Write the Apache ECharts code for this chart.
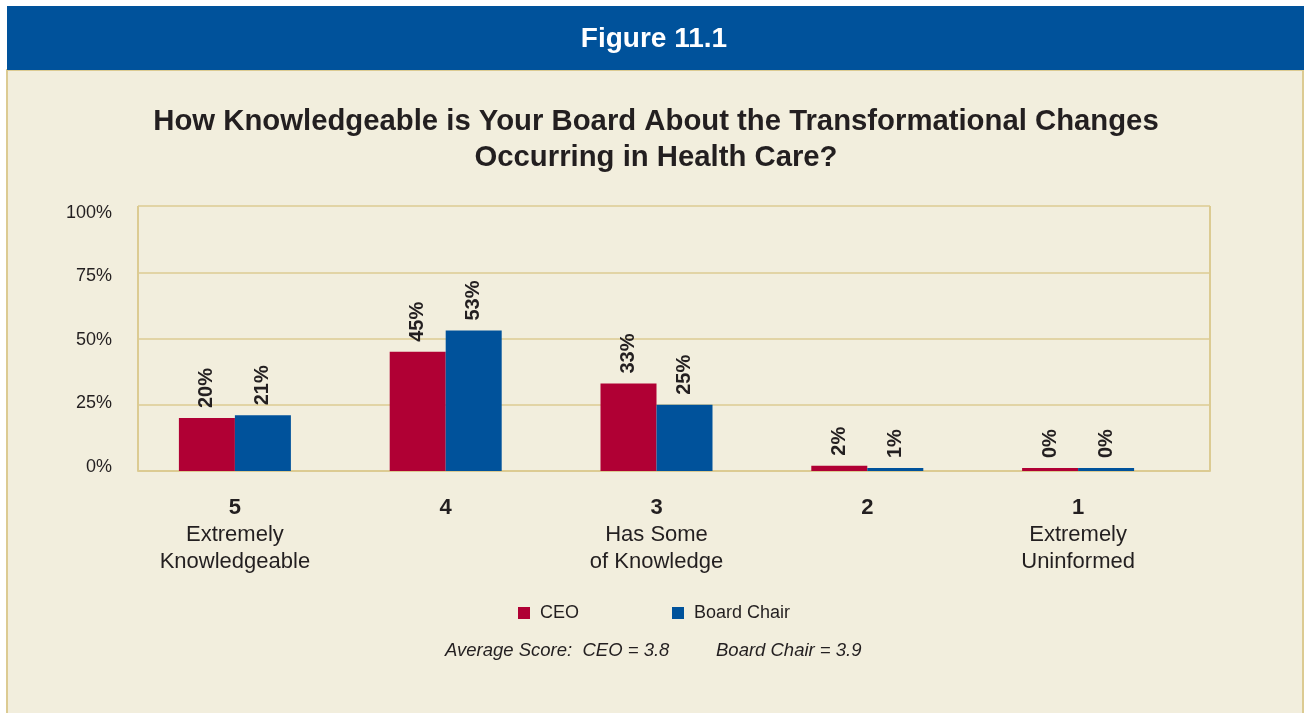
<!DOCTYPE html>
<html>
<head>
<meta charset="utf-8">
<title>Figure 11.1</title>
<script src="https://cdn.jsdelivr.net/npm/echarts@6/dist/echarts.min.js"></script>
<style>
  html, body { margin: 0; padding: 0; background: #ffffff; }
  #chart { width: 1304px; height: 713px; }
</style>
</head>
<body>
<div id="chart"></div>
<script>
// Survey responses (percent of respondents)
const ratings = ['5', '4', '3', '2', '1'];
const ratingNotes = [['Extremely', 'Knowledgeable'], [], ['Has Some', 'of Knowledge'], [], ['Extremely', 'Uninformed']];
const ceoValues = [20, 45, 33, 2, 0];
const chairValues = [21, 53, 25, 1, 0];
const seriesNames = ['CEO', 'Board Chair'];
const yTicks = [0, 25, 50, 75, 100];

const BLUE = '#00529b';
const RED = '#b00034';
const TAN = '#dccb92';
const PANEL = '#f2eedd';
const INK = '#231f20';
const FONT = '"Liberation Sans", Arial, Helvetica, sans-serif';

const chart = echarts.init(document.getElementById('chart'));

const barLabel = {
  show: true,
  position: 'top',
  distance: 10,
  rotate: 90,
  align: 'left',
  verticalAlign: 'middle',
  formatter: '{c}%',
  fontFamily: FONT,
  fontSize: 20,
  fontWeight: 'bold',
  color: INK
};

const yMin = yTicks[0];
const yMax = yTicks[yTicks.length - 1];

chart.setOption({
  backgroundColor: 'transparent',
  animation: false,
  textStyle: { fontFamily: FONT, color: INK },
  graphic: [
    // cream panel with tan border
    { type: 'rect', z: -10, shape: { x: 7, y: 70, width: 1296, height: 650 },
      style: { fill: PANEL, stroke: TAN, lineWidth: 2 } },
    // header banner
    { type: 'rect', z: -5, shape: { x: 7, y: 6, width: 1297, height: 64 }, style: { fill: BLUE } },
    { type: 'text', z: 10, x: 654, y: 39,
      style: { text: 'Figure 11.1', fill: '#ffffff', font: 'bold 28px ' + FONT,
               textAlign: 'center', textVerticalAlign: 'middle' } },
    // chart title
    { type: 'text', z: 10, x: 656, y: 122,
      style: { text: 'How Knowledgeable is Your Board About the Transformational Changes', fill: INK,
               font: 'bold 29.3px ' + FONT, textAlign: 'center', textVerticalAlign: 'middle' } },
    { type: 'text', z: 10, x: 656, y: 158,
      style: { text: 'Occurring in Health Care?', fill: INK,
               font: 'bold 29.3px ' + FONT, textAlign: 'center', textVerticalAlign: 'middle' } },
    // average scores
    { type: 'text', z: 10, x: 445, y: 651,
      style: { text: 'Average Score:  CEO = 3.8', fill: INK, font: 'italic 18.5px ' + FONT,
               textAlign: 'left', textVerticalAlign: 'middle' } },
    { type: 'text', z: 10, x: 716, y: 651,
      style: { text: 'Board Chair = 3.9', fill: INK, font: 'italic 18.5px ' + FONT,
               textAlign: 'left', textVerticalAlign: 'middle' } }
  ],
  legend: {
    data: seriesNames,
    left: 513,
    top: 599,
    icon: 'rect',
    itemWidth: 12,
    itemHeight: 12,
    itemGap: 93,
    textStyle: { fontFamily: FONT, fontSize: 18, color: INK, padding: [0, 0, 0, 5] }
  },
  grid: [
    // bars
    { left: 129.5, top: 206, width: 1054, bottom: 242, show: false },
    // plot frame and gridlines
    { left: 138, top: 206, right: 94, bottom: 242, show: false },
    // tick label column
    { left: 138, top: 213, right: 94, bottom: 246, show: false }
  ],
  xAxis: [
    {
      type: 'category', gridIndex: 0, data: ratings,
      axisLine: { show: false }, axisTick: { show: false },
      axisLabel: {
        margin: 23,
        interval: 0,
        formatter: function (value, idx) {
          const notes = ratingNotes[idx];
          let s = '{b|' + value + '}';
          notes.forEach(function (line) { s += '\n{n|' + line + '}'; });
          return s;
        },
        rich: {
          b: { fontFamily: FONT, fontSize: 22, fontWeight: 'bold', lineHeight: 27, color: INK },
          n: { fontFamily: FONT, fontSize: 22, lineHeight: 27, color: INK }
        }
      }
    },
    {
      type: 'value', gridIndex: 1, min: 0, max: 1, interval: 1,
      axisLine: { show: true, lineStyle: { color: TAN, width: 2 } },
      axisTick: { show: false }, axisLabel: { show: false },
      splitLine: { show: true, lineStyle: { color: TAN, width: 2 } }
    },
    { type: 'value', gridIndex: 2, min: 0, max: 1, show: false }
  ],
  yAxis: [
    { type: 'value', gridIndex: 0, min: yMin, max: yMax, show: false },
    {
      type: 'value', gridIndex: 1, min: yMin, max: yMax, interval: 25,
      axisLine: { show: false }, axisTick: { show: false }, axisLabel: { show: false },
      splitLine: { show: true, lineStyle: { color: TAN, width: 1.5 } }
    },
    {
      type: 'value', gridIndex: 2, min: yMin, max: yMax, interval: 25,
      axisLine: { show: false }, axisTick: { show: false }, splitLine: { show: false },
      axisLabel: { margin: 26, fontFamily: FONT, fontSize: 18, color: INK, formatter: '{value}%' }
    }
  ],
  series: [
    {
      name: seriesNames[0], type: 'bar', xAxisIndex: 0, yAxisIndex: 0,
      data: ceoValues, barWidth: 56, barGap: '0%', barMinHeight: 3,
      itemStyle: { color: RED }, label: barLabel, z: 3
    },
    {
      name: seriesNames[1], type: 'bar', xAxisIndex: 0, yAxisIndex: 0,
      data: chairValues, barWidth: 56, barGap: '0%', barMinHeight: 3,
      itemStyle: { color: BLUE }, label: barLabel, z: 3
    }
  ]
});
</script>
</body>
</html>
